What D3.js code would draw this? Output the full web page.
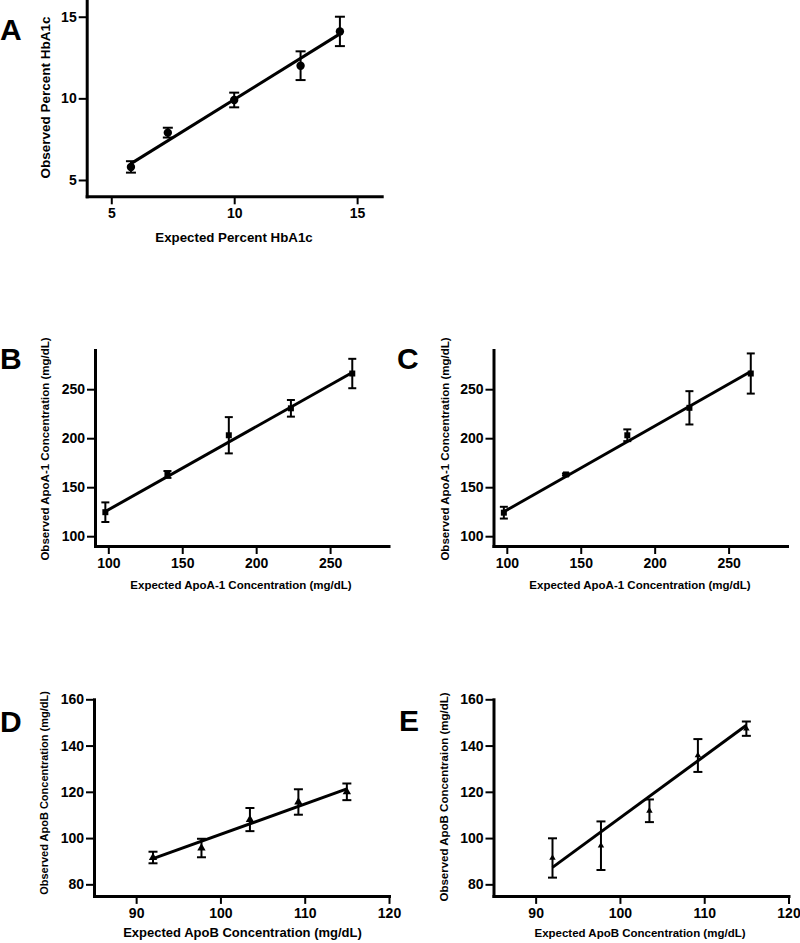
<!DOCTYPE html>
<html>
<head>
<meta charset="utf-8">
<script src="https://cdn.jsdelivr.net/npm/d3@7"></script>
<style>
  html, body { margin: 0; padding: 0; background: #fff; }
  svg { display: block; font-family: "Liberation Sans", Arial, Helvetica, sans-serif; }
</style>
</head>
<body>
<svg id="chart" width="800" height="943"></svg>
<script>
// ---------- DATA ----------
// Panel A: HbA1c
const aExpected = [5.8, 7.3, 10.0, 12.7, 14.3];
const aObserved = [5.8, 7.9, 9.9, 12.0, 14.1];
const aError    = [0.35, 0.3, 0.45, 0.88, 0.9];
const aFit      = [0.935, 0.58];           // slope, intercept
const aXTicks   = [5, 10, 15];
const aYTicks   = [5, 10, 15];

// Panel B: ApoA-1
const bExpected = [98, 140, 181.5, 223.5, 265];
const bObserved = [124.5, 163, 203, 230.5, 266];
const bError    = [10, 3.5, 18.5, 8.5, 15];
const bFit      = [0.849, 42];

// Panel C: ApoA-1
const cExpected = [98, 140, 181.5, 223.5, 265];
const cObserved = [124, 163, 203, 231, 266];
const cError    = [6, 1, 6, 17, 20.5];
const cFit      = [0.857, 41];
const apoAXTicks = [100, 150, 200, 250];
const apoAYTicks = [100, 150, 200, 250];

// Panel D: ApoB
const dExpected = [92, 97.75, 103.5, 109.25, 115];
const dObserved = [91.6, 95.7, 108, 115.6, 120];
const dError    = [2.5, 4, 5, 5.5, 3.6];
const dFit      = [1.31, -29.4];

// Panel E: ApoB
const eExpected = [92, 97.75, 103.5, 109.25, 115];
const eObserved = [91.4, 96.7, 111.8, 135.7, 147.3];
const eError    = [8.5, 10.5, 4.9, 7.1, 3.1];
const eFit      = [2.67, -158.3];
const apoBXTicks = [90, 100, 110, 120];
const apoBYTicks = [80, 100, 120, 140, 160];

// ---------- LAYOUT ----------
const svg = d3.select("#chart");

const panels = [
  { letter: "A", lx: 0, ly: 40,
    x: aExpected, y: aObserved, err: aError, fit: aFit,
    xDom: [4, 16], yDom: [4, 16], xTicks: aXTicks, yTicks: aYTicks,
    xr: [86.7, 381.7], yr: [196.3, 0.4],
    marker: "circle", msize: 4.2, cap: 10,
    xTitle: "Expected Percent HbA1c", xtx: 234, xty: 242, xfs: 13.3,
    yTitle: "Observed Percent  HbA1c", ytx: 50, yty: 97.5, yfs: 13.5 },
  { letter: "B", lx: 0, ly: 369,
    x: bExpected, y: bObserved, err: bError, fit: bFit,
    xDom: [91, 289.5], yDom: [90, 290], xTicks: apoAXTicks, yTicks: apoAYTicks,
    xr: [95, 388.5], yr: [546, 350],
    marker: "square", msize: 36, cap: 8,
    xTitle: "Expected ApoA-1 Concentration (mg/dL)", xtx: 241, xty: 588.5, xfs: 11.5,
    yTitle: "Observed ApoA-1 Concentration (mg/dL)", ytx: 48.5, yty: 449, yfs: 11.5 },
  { letter: "C", lx: 397, ly: 369,
    x: cExpected, y: cObserved, err: cError, fit: cFit,
    xDom: [91, 289.5], yDom: [90, 290], xTicks: apoAXTicks, yTicks: apoAYTicks,
    xr: [493.5, 787], yr: [546, 350],
    marker: "square", msize: 36, cap: 8,
    xTitle: "Expected ApoA-1 Concentration (mg/dL)", xtx: 640, xty: 588.5, xfs: 11.5,
    yTitle: "Observed ApoA-1 Concentration (mg/dL)", ytx: 448.5, yty: 449, yfs: 11.5 },
  { letter: "D", lx: 0, ly: 732,
    x: dExpected, y: dObserved, err: dError, fit: dFit,
    xDom: [85, 120], yDom: [75, 160], xTicks: apoBXTicks, yTicks: apoBYTicks,
    xr: [94, 389], yr: [895.9, 699.3],
    marker: "triangle", msize: 30, cap: 9,
    xTitle: "Expected ApoB Concentration (mg/dL)", xtx: 242.5, xty: 937.3, xfs: 13,
    yTitle: "Observed ApoB Concentration (mg/dL)", ytx: 48, yty: 793, yfs: 11 },
  { letter: "E", lx: 399, ly: 731,
    x: eExpected, y: eObserved, err: eError, fit: eFit,
    xDom: [85, 120], yDom: [75, 160], xTicks: apoBXTicks, yTicks: apoBYTicks,
    xr: [493.5, 788.5], yr: [895.9, 699.3],
    marker: "triangle", msize: 18, cap: 9,
    xTitle: "Expected ApoB Concentration (mg/dL)", xtx: 640, xty: 936.5, xfs: 11.5,
    yTitle: "Observed ApoB Concentraion (mg/dL)", ytx: 448, yty: 797, yfs: 11.5 }
];

panels.forEach(p => {
  const g = svg.append("g");
  const xs = d3.scaleLinear().domain(p.xDom).range(p.xr);
  const ys = d3.scaleLinear().domain(p.yDom).range(p.yr);

  // Axes
  const xAxis = d3.axisBottom(xs).tickValues(p.xTicks).tickSize(8).tickSizeOuter(0).tickPadding(4).tickFormat(d3.format("d"));
  const yAxis = d3.axisLeft(ys).tickValues(p.yTicks).tickSize(8).tickSizeOuter(0).tickPadding(2).tickFormat(d3.format("d"));

  const gx = g.append("g").attr("transform", `translate(0,${p.yr[0]})`).call(xAxis);
  const gy = g.append("g").attr("transform", `translate(${p.xr[0]},0)`).call(yAxis);
  [gx, gy].forEach(ax => {
    ax.select(".domain").attr("stroke", "#000").attr("stroke-width", 3).attr("stroke-linecap", "square");
    ax.selectAll(".tick line").attr("stroke", "#000").attr("stroke-width", 2);
    ax.selectAll(".tick text").attr("fill", "#000").attr("font-size", 14).attr("font-weight", "bold")
      .attr("font-family", "'Liberation Sans', Arial, sans-serif");
  });

  // Regression line
  const x0 = d3.min(p.x), x1 = d3.max(p.x);
  g.append("line")
    .attr("x1", xs(x0)).attr("y1", ys(p.fit[0] * x0 + p.fit[1]))
    .attr("x2", xs(x1)).attr("y2", ys(p.fit[0] * x1 + p.fit[1]))
    .attr("stroke", "#000").attr("stroke-width", 3);

  // Error bars
  const pts = p.x.map((xv, i) => ({ x: xv, y: p.y[i], e: p.err[i] }));
  const eb = g.append("g").attr("stroke", "#000").attr("stroke-width", 2);
  pts.forEach(d => {
    const cx = xs(d.x), yt = ys(d.y + d.e), yb = ys(d.y - d.e);
    eb.append("line").attr("x1", cx).attr("x2", cx).attr("y1", yt).attr("y2", yb);
    eb.append("line").attr("x1", cx - p.cap / 2).attr("x2", cx + p.cap / 2).attr("y1", yt).attr("y2", yt);
    eb.append("line").attr("x1", cx - p.cap / 2).attr("x2", cx + p.cap / 2).attr("y1", yb).attr("y2", yb);
  });

  // Markers
  if (p.marker === "circle") {
    g.selectAll("circle.pt").data(pts).join("circle")
      .attr("class", "pt").attr("cx", d => xs(d.x)).attr("cy", d => ys(d.y)).attr("r", p.msize).attr("fill", "#000");
  } else {
    const sym = p.marker === "square" ? d3.symbolSquare : d3.symbolTriangle;
    g.selectAll("path.pt").data(pts).join("path")
      .attr("class", "pt")
      .attr("d", d3.symbol().type(sym).size(p.msize))
      .attr("transform", d => `translate(${xs(d.x)},${ys(d.y)})`)
      .attr("fill", "#000");
  }

  // Titles
  g.append("text").attr("x", p.xtx).attr("y", p.xty).attr("text-anchor", "middle")
    .attr("font-size", p.xfs).attr("font-weight", "bold").text(p.xTitle);
  g.append("text").attr("transform", `translate(${p.ytx},${p.yty}) rotate(-90)`).attr("text-anchor", "middle")
    .attr("font-size", p.yfs).attr("font-weight", "bold").text(p.yTitle);

  // Panel letter
  g.append("text").attr("x", p.lx).attr("y", p.ly).attr("font-size", 30).attr("font-weight", "bold").text(p.letter);
});
</script>
</body>
</html>
